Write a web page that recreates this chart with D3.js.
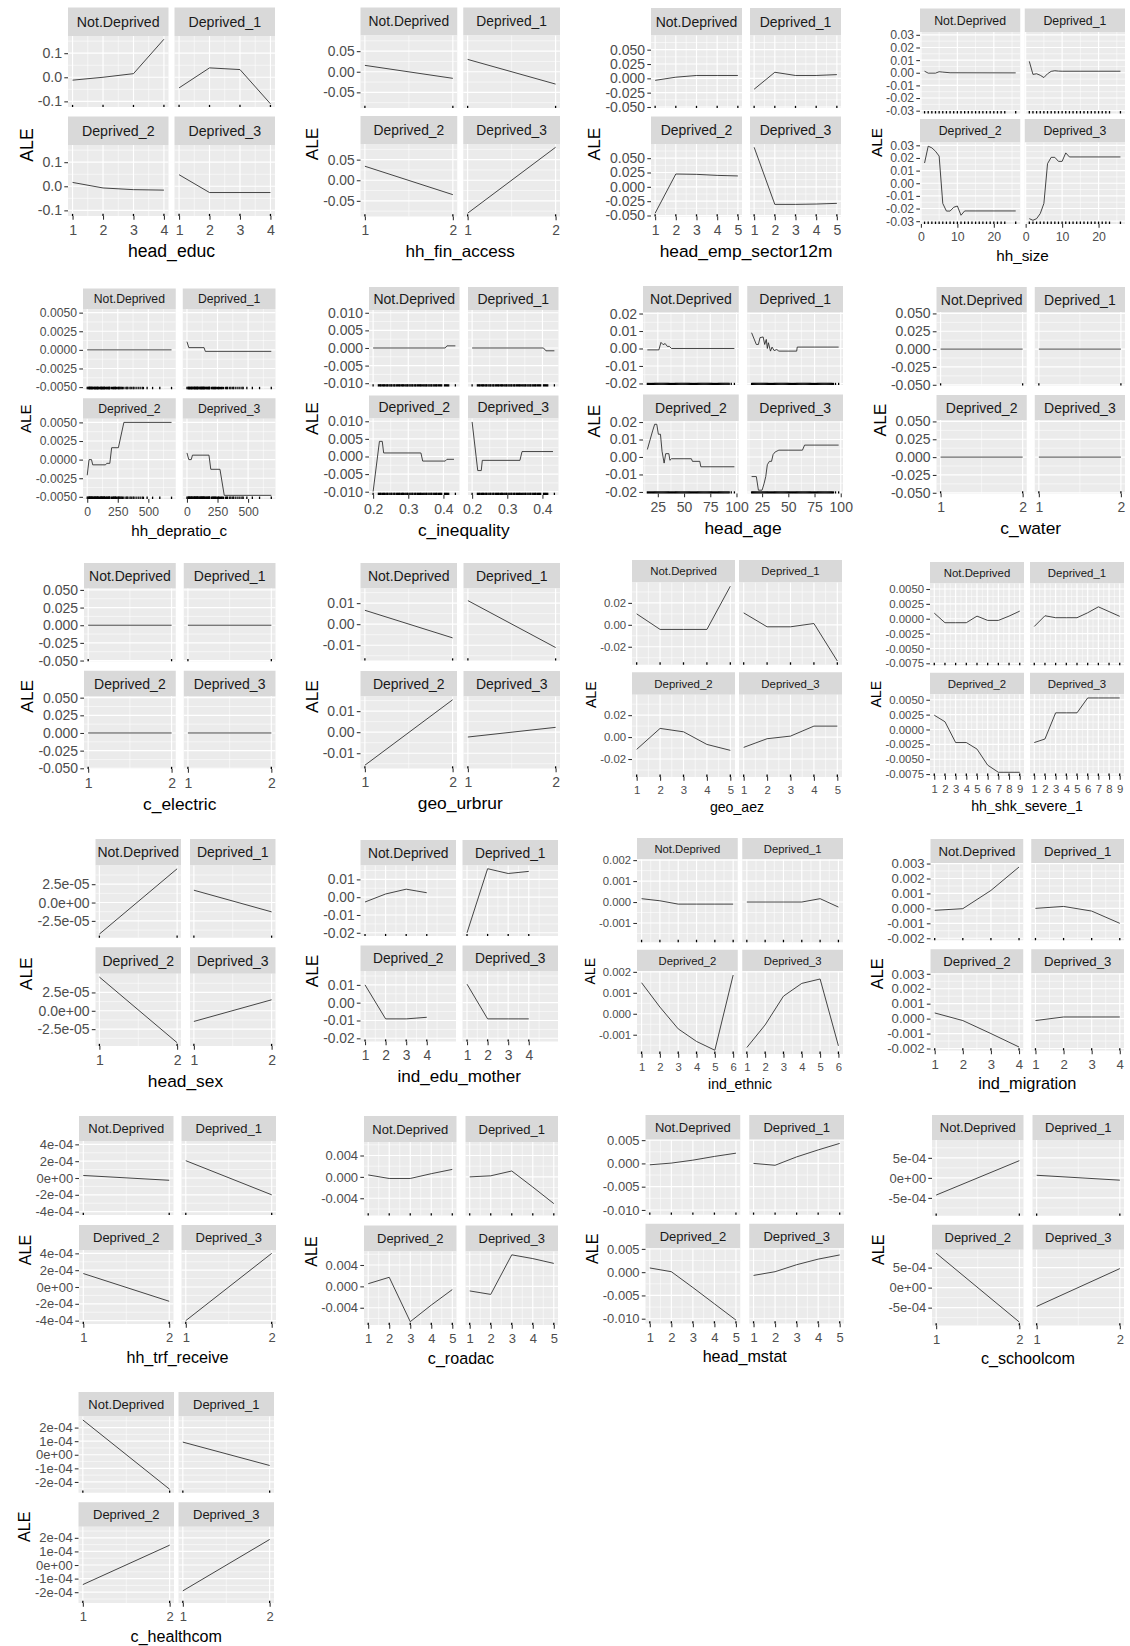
<!DOCTYPE html>
<html>
<head>
<meta charset="utf-8">
<script src="https://cdn.jsdelivr.net/npm/d3@7"></script>
<style>
  body { margin: 0; background: #ffffff; }
  svg text { font-family: "Liberation Sans", Arial, Helvetica, sans-serif; }
</style>
</head>
<body>
<svg id="fig" width="1130" height="1646"></svg>
<script>
// Accumulated local effects (ALE) per deprivation class, one 2x2 facet block per feature.
const classes = ["Not.Deprived", "Deprived_1", "Deprived_2", "Deprived_3"];

// ---------- head_educ ----------
const headEducX = [1, 2, 3, 4];
const headEducAle = [
  [-0.012, 0.000, 0.015, 0.158],
  [-0.044, 0.039, 0.032, -0.110],
  [0.016, -0.007, -0.014, -0.016],
  [0.048, -0.026, -0.026, -0.026]
];
const headEducYTicks = [-0.1, 0, 0.1];

// ---------- hh_fin_access ----------
const finAccessX = [1, 2];
const finAccessAle = [
  [0.0155, -0.016],
  [0.030, -0.030],
  [0.034, -0.035],
  [-0.080, 0.080]
];
const finAccessYTicks = [-0.05, 0, 0.05];

// ---------- head_emp_sector12m ----------
const empSectorX = [1, 2, 3, 4, 5];
const empSectorAle = [
  [-0.0035, 0.002, 0.005, 0.005, 0.005],
  [-0.019, 0.0106, 0.005, 0.005, 0.0065],
  [-0.046, 0.0224, 0.0218, 0.020, 0.019],
  [0.069, -0.0306, -0.0306, -0.030, -0.0288]
];
const empSectorYTicks = [-0.05, -0.025, 0, 0.025, 0.05];

// ---------- hh_size ([x, ale] pairs) ----------
const hhSizeAle = [
  [[1, 0.0012], [2, -0.0003], [4, -0.0003], [5, 0.0008], [6, 0.0005], [8, 0.0000], [26, -0.0001]],
  [[1, 0.0090], [2, -0.0013], [3, -0.0008], [4, -0.0020], [5, -0.0038], [6, -0.0008], [7, 0.0011],
   [8, 0.0016], [9, 0.0013], [10, 0.0012], [26, 0.0012]],
  [[1, 0.0160], [2, 0.0293], [3, 0.0280], [4, 0.0253], [5, 0.0215], [6, -0.0160], [7, -0.0220],
   [8, -0.0220], [9, -0.0190], [10, -0.0180], [11, -0.0253], [12, -0.0219], [26, -0.0219]],
  [[1, -0.0280], [2, -0.0293], [3, -0.0280], [4, -0.0240], [5, -0.0160], [6, 0.0155], [7, 0.0205],
   [8, 0.0205], [9, 0.0173], [10, 0.0173], [11, 0.0240], [12, 0.0208], [26, 0.0208]]
];
const hhSizeRug = [1, 2, 3, 4, 5, 6, 7, 8, 9, 10, 11, 12, 13, 14, 15, 16, 17, 18, 19, 20, 21, 22, 23, 26];
const hhSizeXTicks = [0, 10, 20];
const hhSizeYTicks = [-0.03, -0.02, -0.01, 0, 0.01, 0.02, 0.03];

// ---------- hh_depratio_c ----------
const depratioAle = [
  [[0, 0], [690, 0]],
  [[0, 0.0011], [15, 0.0003], [140, 0.0003], [150, -0.0002], [690, -0.0002]],
  [[0, -0.0021], [15, 0.0000], [35, 0.0000], [45, -0.0007], [150, -0.0007], [160, -0.0005],
   [185, -0.0005], [200, 0.0016], [255, 0.0016], [300, 0.0050], [690, 0.0050]],
  [[0, 0.0009], [15, 0.0000], [35, 0.0000], [45, 0.0006], [180, 0.0006], [195, -0.0013],
   [270, -0.0013], [305, -0.0048], [690, -0.0048]]
];
const depratioRug = [0, 8, 14, 17, 20, 25, 29, 33, 38, 40, 43, 50, 56, 60, 63, 67, 71, 75, 80, 83, 86, 89, 92,
  100, 105, 110, 114, 117, 120, 125, 129, 133, 138, 140, 143, 150, 157, 160, 167, 171, 175, 180, 183, 186,
  200, 207, 214, 217, 225, 229, 233, 240, 250, 257, 260, 267, 275, 283, 289, 300, 317, 325, 333, 350, 360,
  375, 383, 400, 417, 433, 450, 460, 490, 535, 594, 690];
const depratioXTicks = [0, 250, 500];
const depratioYTicks = [-0.005, -0.0025, 0, 0.0025, 0.005];

// ---------- c_inequality ----------
const ineqAle = [
  [[0.200, 0], [0.405, 0], [0.410, 0.0006], [0.434, 0.0006]],
  [[0.200, 0], [0.403, 0], [0.410, -0.0008], [0.434, -0.0008]],
  [[0.200, -0.00995], [0.218, 0.0043], [0.226, 0.0043], [0.230, 0.0010], [0.336, 0.0010],
   [0.341, -0.0013], [0.405, -0.0013], [0.410, -0.0008], [0.430, -0.0008]],
  [[0.200, 0.0098], [0.216, -0.0040], [0.226, -0.0040], [0.229, -0.0011], [0.336, -0.0011],
   [0.342, 0.0014], [0.430, 0.0014]]
];
const ineqRug = [0.200, 0.215, 0.218, 0.221, 0.223, 0.227, 0.230, 0.232, 0.236, 0.239, 0.241, 0.245, 0.248,
  0.251, 0.253, 0.257, 0.260, 0.262, 0.266, 0.269, 0.272, 0.275, 0.277, 0.281, 0.284, 0.286, 0.290, 0.293,
  0.296, 0.298, 0.302, 0.305, 0.308, 0.311, 0.313, 0.317, 0.320, 0.322, 0.326, 0.329, 0.332, 0.335, 0.337,
  0.341, 0.344, 0.347, 0.350, 0.352, 0.356, 0.359, 0.362, 0.365, 0.367, 0.371, 0.374, 0.377, 0.380, 0.382,
  0.386, 0.389, 0.392, 0.395, 0.403, 0.406, 0.409, 0.412, 0.415, 0.434];
const ineqXTicks = [0.2, 0.3, 0.4];
const ineqYTicks = [-0.01, -0.005, 0, 0.005, 0.01];

// ---------- head_age ----------
const ageAle = [
  [[15, -0.0008], [26, -0.0008], [28, 0.0035], [30, 0.0022], [32, 0.0028], [34, 0.0012], [36, 0.0012],
   [38, 0.0000], [98, 0.0000]],
  [[15, 0.0090], [19.5, 0.0023], [21.5, 0.0023], [23, 0.0062], [26, 0.0066], [27.5, 0.0023], [29, 0.0052],
   [30, 0.0000], [31, 0.0033], [33, -0.0015], [34.5, 0.0008], [36.5, -0.0012], [39, -0.0006], [41, -0.0015],
   [58, -0.0015], [58.5, 0.0008], [98, 0.0008]],
  [[15, 0.0043], [20, 0.0149], [22, 0.0187], [24, 0.0187], [25.5, 0.0130], [27.5, 0.0130], [29, 0.0033],
   [31, -0.0035], [32.5, 0.0019], [35.5, 0.0019], [36.5, -0.0019], [38, -0.0010], [57, -0.0010],
   [58, -0.0025], [65, -0.0025], [66, -0.0056], [98, -0.0056]],
  [[15, -0.0112], [19.5, -0.0112], [21.5, -0.0190], [25, -0.0190], [27, -0.0150], [28.5, -0.0112],
   [30, -0.0044], [32, -0.0025], [34, -0.0025], [35.5, 0.0014], [37.5, 0.0029], [41, 0.0039],
   [63.5, 0.0039], [65.5, 0.0068], [98, 0.0068]]
];
const ageRug = [15, 16, 17, 18, 19, 20, 21, 22, 23, 24, 25, 26, 27, 28, 29, 30, 31, 32, 33, 34, 35, 36, 37, 38,
  39, 40, 41, 42, 43, 44, 45, 46, 47, 48, 49, 50, 51, 52, 53, 54, 55, 56, 57, 58, 59, 60, 61, 62, 63, 64, 65,
  66, 67, 68, 69, 70, 71, 72, 73, 74, 75, 76, 77, 78, 79, 80, 81, 82, 83, 84, 85, 86, 87, 88, 89, 90, 91, 92,
  93, 95, 98];
const ageXTicks = [25, 50, 75, 100];
const ageYTicks = [-0.02, -0.01, 0, 0.01, 0.02];

// ---------- c_water / c_electric (flat effects) ----------
const waterX = [1, 2];
const waterAle = [[0, 0], [0, 0], [0, 0], [0, 0]];
const electricX = [1, 2];
const electricAle = [[0, 0], [0, 0], [0, 0], [0, 0]];
const flatYTicks = [-0.05, -0.025, 0, 0.025, 0.05];
const flatYDomain = [-0.051, 0.052];

// ---------- geo_urbrur ----------
const urbrurX = [1, 2];
const urbrurAle = [[0.0066, -0.0065], [0.0112, -0.0111], [-0.0157, 0.0154], [-0.0023, 0.0023]];
const urbrurYTicks = [-0.01, 0, 0.01];

// ---------- geo_aez ----------
const aezX = [1, 2, 3, 4, 5];
const aezAle = [
  [0.0100, -0.0042, -0.0042, -0.0042, 0.0352],
  [0.0109, -0.0018, -0.0018, 0.0012, -0.0330],
  [-0.0112, 0.0079, 0.0048, -0.0067, -0.0121],
  [-0.0094, -0.0015, 0.0009, 0.0100, 0.0100]
];
const aezYTicks = [-0.02, 0, 0.02];

// ---------- hh_shk_severe_1 ----------
const shockX = [1, 2, 3, 4, 5, 6, 7, 8, 9];
const shockAle = [
  [0.00094, -0.00067, -0.00067, -0.00067, 0.00044, -0.00028, -0.00028, 0.00044, 0.00128],
  [-0.0013, 0.0005, 0.00017, 0.00017, 0.00017, 0.0010, 0.0020, 0.0012, 0.0004],
  [0.0024, 0.0013, -0.0022, -0.0022, -0.0033, -0.0060, -0.0072, -0.0072, -0.0072],
  [-0.0022, -0.0016, 0.0028, 0.0028, 0.0028, 0.0053, 0.0053, 0.0053, 0.0053]
];
const shockYTicks = [-0.0075, -0.005, -0.0025, 0, 0.0025, 0.005];

// ---------- head_sex ----------
const sexX = [1, 2];
const sexAle = [[-4.3e-5, 4.6e-5], [1.68e-5, -1.27e-5], [4.6e-5, -4.35e-5], [-1.45e-5, 1.5e-5]];
const sexYTicks = [-2.5e-5, 0, 2.5e-5];

// ---------- ind_edu_mother ----------
const eduMotherX = [1, 2, 3, 4];
const eduMotherAle = [
  [-0.0027, 0.0018, 0.0045, 0.0025],
  [-0.0200, 0.0160, 0.0133, 0.0145],
  [0.0100, -0.0091, -0.0091, -0.0082],
  [0.0104, -0.0091, -0.0091, -0.0091]
];
const eduMotherYTicks = [-0.02, -0.01, 0, 0.01];
const eduMotherXDomain = [0.78, 5.42];

// ---------- ind_ethnic ----------
const ethnicX = [1, 2, 3, 4, 5, 6];
const ethnicAle = [
  [0.00016, 0.00006, -0.0001, -0.0001, -0.0001, -0.0001],
  [0.0, 0.0, 0.0, 0.0, 0.00016, -0.00024],
  [0.00148, 0.00032, -0.00072, -0.00132, -0.00174, 0.00185],
  [-0.00161, -0.00053, 0.00084, 0.00145, 0.00166, -0.00153]
];
const ethnicYTicks = [-0.001, 0, 0.001, 0.002];

// ---------- ind_migration ----------
const migrationX = [1, 2, 3, 4];
const migrationAle = [
  [-0.00013, -0.00002, 0.0012, 0.00277],
  [0.0, 0.00013, -0.00018, -0.0010],
  [0.00038, -0.00013, -0.0010, -0.0019],
  [-0.00013, 0.00011, 0.00011, 0.00011]
];
const migrationYTicks = [-0.002, -0.001, 0, 0.001, 0.002, 0.003];

// ---------- hh_trf_receive ----------
const transferX = [1, 2];
const transferAle = [[3e-5, -2.7e-5], [2.06e-4, -2.0e-4], [1.6e-4, -1.7e-4], [-4.0e-4, 4.0e-4]];
const transferYTicks = [-4e-4, -2e-4, 0, 2e-4, 4e-4];

// ---------- c_roadac ----------
const roadX = [1, 2, 3, 4, 5];
const roadAle = [
  [0.00036, -0.0003, -0.0003, 0.0006, 0.0014],
  [0.0, 0.0002, 0.0011, -0.0019, -0.0050],
  [0.0005, 0.0017, -0.0066, -0.0035, -0.0006],
  [-0.00085, -0.0015, 0.0059, 0.0052, 0.0043]
];
const roadYTicks = [-0.004, 0, 0.004];

// ---------- head_mstat ----------
const mstatX = [1, 2, 3, 4, 5];
const mstatAle = [
  [-0.0003, 0.00007, 0.0007, 0.0015, 0.0022],
  [0.0, -0.0004, 0.0014, 0.0029, 0.0043],
  [0.0009, 0.0001, -0.0033, -0.0068, -0.0103],
  [-0.0007, 0.0001, 0.0016, 0.0028, 0.0037]
];
const mstatYTicks = [-0.01, -0.005, 0, 0.005];

// ---------- c_schoolcom ----------
const schoolX = [1, 2];
const schoolAle = [[-4.3e-4, 4.3e-4], [6.5e-5, -5.7e-5], [8.6e-4, -8.6e-4], [-4.7e-4, 4.75e-4]];
const schoolYTicks = [-5e-4, 0, 5e-4];

// ---------- c_healthcom ----------
const healthX = [1, 2];
const healthAle = [[2.56e-4, -2.54e-4], [0.93e-4, -0.79e-4], [-1.44e-4, 1.46e-4], [-1.9e-4, 1.88e-4]];
const healthYTicks = [-2e-4, -1e-4, 0, 1e-4, 2e-4];

// Feature table (references the arrays above)
const features = [
  { name: "head_educ", x: headEducX, ale: headEducAle, xTicks: headEducX, yTicks: headEducYTicks, yFmt: "f1" },
  { name: "hh_fin_access", x: finAccessX, ale: finAccessAle, xTicks: finAccessX, yTicks: finAccessYTicks, yFmt: "f2" },
  { name: "head_emp_sector12m", x: empSectorX, ale: empSectorAle, xTicks: empSectorX, yTicks: empSectorYTicks, yFmt: "f3" },
  { name: "hh_size", ale: hhSizeAle, rug: hhSizeRug, xTicks: hhSizeXTicks, yTicks: hhSizeYTicks, yFmt: "f2" },
  { name: "hh_depratio_c", ale: depratioAle, rug: depratioRug, xTicks: depratioXTicks, yTicks: depratioYTicks, yFmt: "f4" },
  { name: "c_inequality", ale: ineqAle, rug: ineqRug, xTicks: ineqXTicks, yTicks: ineqYTicks, yFmt: "f3", xFmt: "f1" },
  { name: "head_age", ale: ageAle, rug: ageRug, xTicks: ageXTicks, yTicks: ageYTicks, yFmt: "f2" },
  { name: "c_water", x: waterX, ale: waterAle, xTicks: waterX, yTicks: flatYTicks, yFmt: "f3", yDomain: flatYDomain },
  { name: "c_electric", x: electricX, ale: electricAle, xTicks: electricX, yTicks: flatYTicks, yFmt: "f3", yDomain: flatYDomain },
  { name: "geo_urbrur", x: urbrurX, ale: urbrurAle, xTicks: urbrurX, yTicks: urbrurYTicks, yFmt: "f2" },
  { name: "geo_aez", x: aezX, ale: aezAle, xTicks: aezX, yTicks: aezYTicks, yFmt: "f2" },
  { name: "hh_shk_severe_1", x: shockX, ale: shockAle, xTicks: shockX, yTicks: shockYTicks, yFmt: "f4" },
  { name: "head_sex", x: sexX, ale: sexAle, xTicks: sexX, yTicks: sexYTicks, yFmt: "e1" },
  { name: "ind_edu_mother", x: eduMotherX, ale: eduMotherAle, xTicks: eduMotherX, yTicks: eduMotherYTicks, yFmt: "f2", xDomain: eduMotherXDomain },
  { name: "ind_ethnic", x: ethnicX, ale: ethnicAle, xTicks: ethnicX, yTicks: ethnicYTicks, yFmt: "f3" },
  { name: "ind_migration", x: migrationX, ale: migrationAle, xTicks: migrationX, yTicks: migrationYTicks, yFmt: "f3" },
  { name: "hh_trf_receive", x: transferX, ale: transferAle, xTicks: transferX, yTicks: transferYTicks, yFmt: "e0" },
  { name: "c_roadac", x: roadX, ale: roadAle, xTicks: roadX, yTicks: roadYTicks, yFmt: "f3" },
  { name: "head_mstat", x: mstatX, ale: mstatAle, xTicks: mstatX, yTicks: mstatYTicks, yFmt: "f3" },
  { name: "c_schoolcom", x: schoolX, ale: schoolAle, xTicks: schoolX, yTicks: schoolYTicks, yFmt: "e0" },
  { name: "c_healthcom", x: healthX, ale: healthAle, xTicks: healthX, yTicks: healthYTicks, yFmt: "e0" }
];

// Block geometry: panel area left/right, strip top, lower panel bottom,
// strip height, row gap, column gap, strip font size.
const layout = [
  { l: 68,    r: 275,   t: 7.5,   b: 216,    s: 28.5, g: 9.5,  cg: 6,   fs: 14.2 },
  { l: 360.5, r: 560,   t: 7.5,   b: 216.5,  s: 28,   g: 8,    cg: 6,   fs: 13.8 },
  { l: 651,   r: 841,   t: 8,     b: 216.5,  s: 27.5, g: 8.5,  cg: 8,   fs: 14 },
  { l: 920,   r: 1125,  t: 8.5,   b: 224,    s: 23.5, g: 5.5,  cg: 4.5, fs: 12.3 },
  { l: 83,    r: 275.5, t: 288.5, b: 499,    s: 20.5, g: 9,    cg: 7,   fs: 12.2 },
  { l: 369,   r: 558.5, t: 287,   b: 495,    s: 23,   g: 9,    cg: 8.5, fs: 14 },
  { l: 643,   r: 843,   t: 286,   b: 493.5,  s: 26.5, g: 9.5,  cg: 8.5, fs: 14 },
  { l: 936.5, r: 1125,  t: 287,   b: 493.5,  s: 25,   g: 9.5,  cg: 8,   fs: 14 },
  { l: 84,    r: 275.5, t: 563,   b: 769,    s: 25.5, g: 9.5,  cg: 8,   fs: 14 },
  { l: 360.5, r: 560,   t: 563,   b: 768.5,  s: 25.5, g: 10.5, cg: 6.5, fs: 14 },
  { l: 632,   r: 842,   t: 560,   b: 777,    s: 22.5, g: 7.5,  cg: 4,   fs: 11.4 },
  { l: 930,   r: 1124,  t: 562,   b: 776,    s: 21.5, g: 7.5,  cg: 6,   fs: 11.4 },
  { l: 95.5,  r: 275.5, t: 839,   b: 1046,   s: 26.5, g: 9.5,  cg: 9,   fs: 14 },
  { l: 360.5, r: 558,   t: 840,   b: 1041.5, s: 25.5, g: 9.5,  cg: 6.5, fs: 13.8 },
  { l: 637,   r: 843,   t: 838,   b: 1054,   s: 21.5, g: 7.5,  cg: 4.5, fs: 11.3 },
  { l: 930.5, r: 1124,  t: 839,   b: 1050.5, s: 24.5, g: 9,    cg: 8,   fs: 13.2 },
  { l: 79,    r: 276,   t: 1116,  b: 1324,   s: 25,   g: 10,   cg: 8,   fs: 13 },
  { l: 364,   r: 558,   t: 1116,  b: 1325,   s: 26,   g: 10,   cg: 9,   fs: 13 },
  { l: 645.5, r: 844,   t: 1115,  b: 1323.5, s: 25,   g: 9,    cg: 9,   fs: 13 },
  { l: 932,   r: 1124,  t: 1115,  b: 1325.5, s: 25,   g: 9,    cg: 9,   fs: 13 },
  { l: 78.5,  r: 274,   t: 1392,  b: 1603,   s: 24.5, g: 9.5,  cg: 4.5, fs: 13 }
];

const svg = d3.select("#fig");
svg.append("rect").attr("width", 1130).attr("height", 1646).attr("fill", "#ffffff");

// ggplot-style 5% expansion of a continuous range
function expand(ext) {
  const r = ext[1] - ext[0];
  return [ext[0] - 0.05 * r, ext[1] + 0.05 * r];
}

// midpoints between regular breaks, extended one step each side, kept inside the domain
function minorBreaks(br, dom) {
  if (br.length < 2) return [];
  const step = br[1] - br[0];
  const ext = [br[0] - step].concat(br, [br[br.length - 1] + step]);
  const out = [];
  for (let i = 0; i < ext.length - 1; i++) out.push((ext[i] + ext[i + 1]) / 2);
  return out.filter(v => v >= Math.min(...dom) && v <= Math.max(...dom));
}

function formatter(spec) {
  if (!spec) return d => String(d);
  const digits = +spec.slice(1);
  if (spec[0] === "f") return v => (Math.abs(v) < 1e-12 ? 0 : v).toFixed(digits);
  return v => {
    if (Math.abs(v) < 1e-15) return (0).toFixed(digits) + "e+00";
    return v.toExponential(digits).replace(/e([+-])(\d)$/, "e$10$2");
  };
}

function drawBlock(f, L) {
  const g = svg.append("g").attr("class", "block");
  const pw = (L.r - L.l - L.cg) / 2;
  const ph = (L.b - L.t - 2 * L.s - L.g) / 2;
  const tickFs = L.fs * 1.0;
  const titleFs = L.fs * 1.24;

  const series = f.ale.map(a => f.x ? f.x.map((xv, i) => [xv, a[i]]) : a);
  const rug = f.rug || f.x;
  const allX = series.flat().map(d => d[0]).concat(rug);
  const xDom = f.xDomain || expand(d3.extent(allX));
  const yDom = f.yDomain || expand(d3.extent(series.flat().map(d => d[1])));

  const x = d3.scaleLinear().domain(xDom).range([0, pw]);
  const y = d3.scaleLinear().domain(yDom).range([ph, 0]);
  const xMinor = minorBreaks(f.xTicks, xDom);
  const yMinor = minorBreaks(f.yTicks, yDom);
  const yFmt = formatter(f.yFmt);
  const xFmt = formatter(f.xFmt);
  const line = d3.line().x(d => x(d[0])).y(d => y(d[1]));

  let labelLeft = Infinity;

  classes.forEach((cls, i) => {
    const col = i % 2, row = Math.floor(i / 2);
    const px = L.l + col * (pw + L.cg);
    const sy = L.t + row * (L.s + ph + L.g);
    const py = sy + L.s;

    // facet strip
    g.append("rect").attr("x", px).attr("y", sy).attr("width", pw).attr("height", L.s)
      .attr("fill", "#D9D9D9");
    g.append("text").attr("x", px + pw / 2).attr("y", sy + L.s / 2).attr("dy", "0.36em")
      .attr("text-anchor", "middle").attr("font-size", L.fs).attr("fill", "#1A1A1A").text(cls);

    const p = g.append("g").attr("transform", `translate(${px},${py})`);
    p.append("rect").attr("width", pw).attr("height", ph).attr("fill", "#EBEBEB");

    // grid
    p.selectAll(".mx").data(xMinor).join("line")
      .attr("x1", d => x(d)).attr("x2", d => x(d)).attr("y1", 0).attr("y2", ph)
      .attr("stroke", "#ffffff").attr("stroke-width", 0.55);
    p.selectAll(".my").data(yMinor).join("line")
      .attr("y1", d => y(d)).attr("y2", d => y(d)).attr("x1", 0).attr("x2", pw)
      .attr("stroke", "#ffffff").attr("stroke-width", 0.55);
    p.selectAll(".gx").data(f.xTicks.filter(v => v >= xDom[0] && v <= xDom[1])).join("line")
      .attr("x1", d => x(d)).attr("x2", d => x(d)).attr("y1", 0).attr("y2", ph)
      .attr("stroke", "#ffffff").attr("stroke-width", 1.15);
    p.selectAll(".gy").data(f.yTicks).join("line")
      .attr("y1", d => y(d)).attr("y2", d => y(d)).attr("x1", 0).attr("x2", pw)
      .attr("stroke", "#ffffff").attr("stroke-width", 1.15);

    // ALE curve
    p.append("path").datum(series[i]).attr("d", line)
      .attr("fill", "none").attr("stroke", "#262626").attr("stroke-width", 0.85)
      .attr("stroke-linejoin", "round");

    // rug of observed feature values
    p.selectAll(".rug").data(rug).join("line")
      .attr("x1", d => x(d)).attr("x2", d => x(d))
      .attr("y1", ph).attr("y2", ph - Math.max(2, 0.03 * ph))
      .attr("stroke", "#000000").attr("stroke-width", 1.3);

    // y axis on the left column
    if (col === 0) {
      const ay = p.append("g").call(
        d3.axisLeft(y).tickValues(f.yTicks).tickFormat(yFmt).tickSize(3.7).tickPadding(2.2));
      ay.select(".domain").remove();
      ay.attr("font-family", null).attr("font-size", tickFs);
      ay.selectAll("line").attr("stroke", "#333333").attr("stroke-width", 1.07);
      ay.selectAll("text").attr("fill", "#4D4D4D");
      ay.selectAll("text").each(function () {
        const bb = this.getBBox();
        labelLeft = Math.min(labelLeft, px + bb.x);
      });
    }
    // x axis on the bottom row
    if (row === 1) {
      const ax = p.append("g").attr("transform", `translate(0,${ph})`).call(
        d3.axisBottom(x).tickValues(f.xTicks).tickFormat(xFmt).tickSize(3.7)
          .tickPadding(3.3 + 0.14 * tickFs));
      ax.select(".domain").remove();
      ax.attr("font-family", null).attr("font-size", tickFs);
      ax.selectAll("line").attr("stroke", "#333333").attr("stroke-width", 1.07);
      ax.selectAll("text").attr("fill", "#4D4D4D");
    }
  });

  // axis titles
  const tickBase = L.b + 7 + 0.85 * tickFs;
  g.append("text").attr("x", (L.l + L.r) / 2)
    .attr("y", tickBase + 0.2 * tickFs + 5 + 0.8 * titleFs)
    .attr("text-anchor", "middle").attr("font-size", titleFs).attr("fill", "#000000").text(f.name);

  const aleY = L.t + 2 * L.s + ph + L.g;
  const aleX = labelLeft - 0.8 * L.fs;
  g.append("text").attr("transform", `translate(${aleX},${aleY}) rotate(-90)`)
    .attr("dy", "0.36em").attr("text-anchor", "middle").attr("font-size", titleFs)
    .attr("fill", "#000000").text("ALE");
}

features.forEach((f, k) => drawBlock(f, layout[k]));
</script>
</body>
</html>
